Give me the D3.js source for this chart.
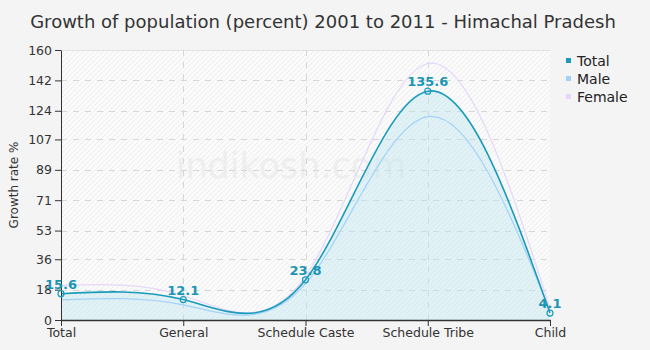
<!DOCTYPE html>
<html lang="en">
<head>
    <meta charset="UTF-8">
    <title>Growth of population - Himachal Pradesh</title>
    <script src="https://d3js.org/d3.v7.min.js"></script>
    <style>
        body { margin: 0; background: #f4f4f4; font-family: "DejaVu Sans", Verdana, sans-serif; }
        svg { display: block; }
    </style>
</head>
<body>
    <div id="chart"></div>
    <script>
        // data
        const categories = ["Total", "General", "Schedule Caste", "Schedule Tribe", "Child"];
        const totalValues = [15.6, 12.1, 23.8, 135.6, 4.1];
        const maleValues = [11.9, 9.0, 21.5, 120.5, 5.5];
        const femaleValues = [20.5, 14.5, 26.0, 152.0, 7.0];
        const yTicks = [0, 18, 36, 53, 71, 89, 107, 124, 142, 160];
        const seriesNames = ["Total", "Male", "Female"];

        const width = 650, height = 350;
        const margin = {top: 50, right: 100, bottom: 30, left: 61};
        const colors = {Total: "#1a9bbb", Male: "#a3d2f8", Female: "#e6d6fb"};

        const svg = d3.select("#chart").append("svg")
            .attr("width", width).attr("height", height);

        const defs = svg.append("defs");
        const pat = defs.append("pattern")
            .attr("id", "hatch").attr("patternUnits", "userSpaceOnUse")
            .attr("width", 5).attr("height", 5);
        pat.append("rect").attr("width", 5).attr("height", 5).attr("fill", "#fbfbfb");
        pat.append("path").attr("d", "M-1,1 l2,-2 M0,5 l5,-5 M4,6 l2,-2")
            .attr("stroke", "#ececec").attr("stroke-width", 1);

        const x = d3.scalePoint().domain(categories).range([margin.left, width - margin.right]);
        const y = d3.scaleLinear().domain([0, 160]).range([height - margin.bottom, margin.top]);

        // plot background
        svg.append("rect")
            .attr("x", margin.left).attr("y", margin.top)
            .attr("width", x.range()[1] - margin.left)
            .attr("height", y(0) - margin.top)
            .attr("fill", "url(#hatch)");
        svg.append("line")
            .attr("x1", margin.left).attr("x2", x.range()[1])
            .attr("y1", margin.top + 0.5).attr("y2", margin.top + 0.5)
            .attr("stroke", "#e2e2e2");

        // watermark
        svg.append("text")
            .attr("x", 291).attr("y", 178)
            .attr("text-anchor", "middle")
            .attr("font-size", 35)
            .attr("fill", "#eeeeee")
            .text("indikosh.com");

        // grid
        svg.append("g").selectAll("line")
            .data(yTicks.slice(1, -1))
            .enter().append("line")
            .attr("x1", margin.left).attr("x2", x.range()[1])
            .attr("y1", d => Math.round(y(d)) + 0.5).attr("y2", d => Math.round(y(d)) + 0.5)
            .attr("stroke", "#d6d6d6").attr("stroke-dasharray", "6,6");
        svg.append("g").selectAll("line")
            .data(categories.slice(1, -1))
            .enter().append("line")
            .attr("x1", d => Math.round(x(d)) + 0.5).attr("x2", d => Math.round(x(d)) + 0.5)
            .attr("y1", margin.top).attr("y2", y(0))
            .attr("stroke", "#d6d6d6").attr("stroke-dasharray", "6,6");

        const line = vals => d3.line()
            .x((d, i) => x(categories[i]))
            .y(d => y(d))
            .curve(d3.curveNatural)(vals);

        const area = d3.area()
            .x((d, i) => x(categories[i]))
            .y0(y(0))
            .y1(d => y(d))
            .curve(d3.curveNatural);

        svg.append("path")
            .attr("d", area(totalValues))
            .attr("fill", "#c2e6f0").attr("fill-opacity", 0.45);

        svg.append("path").attr("d", line(femaleValues))
            .attr("fill", "none").attr("stroke", colors.Female).attr("stroke-width", 1.2);
        svg.append("path").attr("d", line(maleValues))
            .attr("fill", "none").attr("stroke", colors.Male).attr("stroke-width", 1.2);
        svg.append("path").attr("d", line(totalValues))
            .attr("fill", "none").attr("stroke", colors.Total).attr("stroke-width", 1.6);

        // axes
        const yAxis = svg.append("g")
            .attr("transform", `translate(${margin.left},0)`)
            .call(d3.axisLeft(y).tickValues(yTicks).tickFormat(d3.format("d")).tickSize(6).tickSizeOuter(0));
        yAxis.select(".domain").attr("stroke", "#333");
        yAxis.selectAll(".tick line").attr("stroke", "#333");
        yAxis.selectAll("text").attr("font-size", 12.5).attr("fill", "#333")
            .attr("font-family", "DejaVu Sans, sans-serif");

        const xAxis = svg.append("g")
            .attr("transform", `translate(0,${y(0)})`)
            .call(d3.axisBottom(x).tickSize(6).tickSizeOuter(0));
        xAxis.select(".domain").attr("stroke", "#333").attr("stroke-width", 1.5);
        xAxis.selectAll(".tick line").attr("stroke", "#333");
        xAxis.selectAll("text").attr("font-size", 12.5).attr("fill", "#333").attr("dy", "0.6em")
            .attr("font-family", "DejaVu Sans, sans-serif");

        // markers and labels
        svg.append("g").selectAll("circle")
            .data(totalValues)
            .enter().append("circle")
            .attr("cx", (d, i) => x(categories[i]))
            .attr("cy", d => y(d))
            .attr("r", 3)
            .attr("fill", "none").attr("stroke", colors.Total).attr("stroke-width", 1.2);
        svg.append("g").selectAll("text")
            .data(totalValues)
            .enter().append("text")
            .attr("x", (d, i) => x(categories[i]))
            .attr("y", d => y(d) - 5)
            .attr("text-anchor", "middle")
            .attr("font-size", 13).attr("font-weight", "bold")
            .attr("fill", "#1a96b4")
            .text(d => d);

        // y title
        svg.append("text")
            .attr("transform", "translate(18,185) rotate(-90)")
            .attr("text-anchor", "middle")
            .attr("font-size", 12).attr("fill", "#333")
            .text("Growth rate %");

        // title
        svg.append("text")
            .attr("x", 323).attr("y", 28)
            .attr("text-anchor", "middle")
            .attr("font-size", 18).attr("fill", "#333")
            .text("Growth of population (percent) 2001 to 2011 - Himachal Pradesh");

        // legend
        const legend = svg.append("g").selectAll("g")
            .data(seriesNames)
            .enter().append("g")
            .attr("transform", (d, i) => `translate(566,${61 + i * 18})`);
        legend.append("rect").attr("x", 0).attr("y", -3).attr("width", 5).attr("height", 5)
            .attr("fill", d => colors[d]);
        legend.append("text").attr("x", 11).attr("y", 5)
            .attr("font-size", 14).attr("fill", "#222")
            .text(d => d);
    </script>
</body>
</html>
